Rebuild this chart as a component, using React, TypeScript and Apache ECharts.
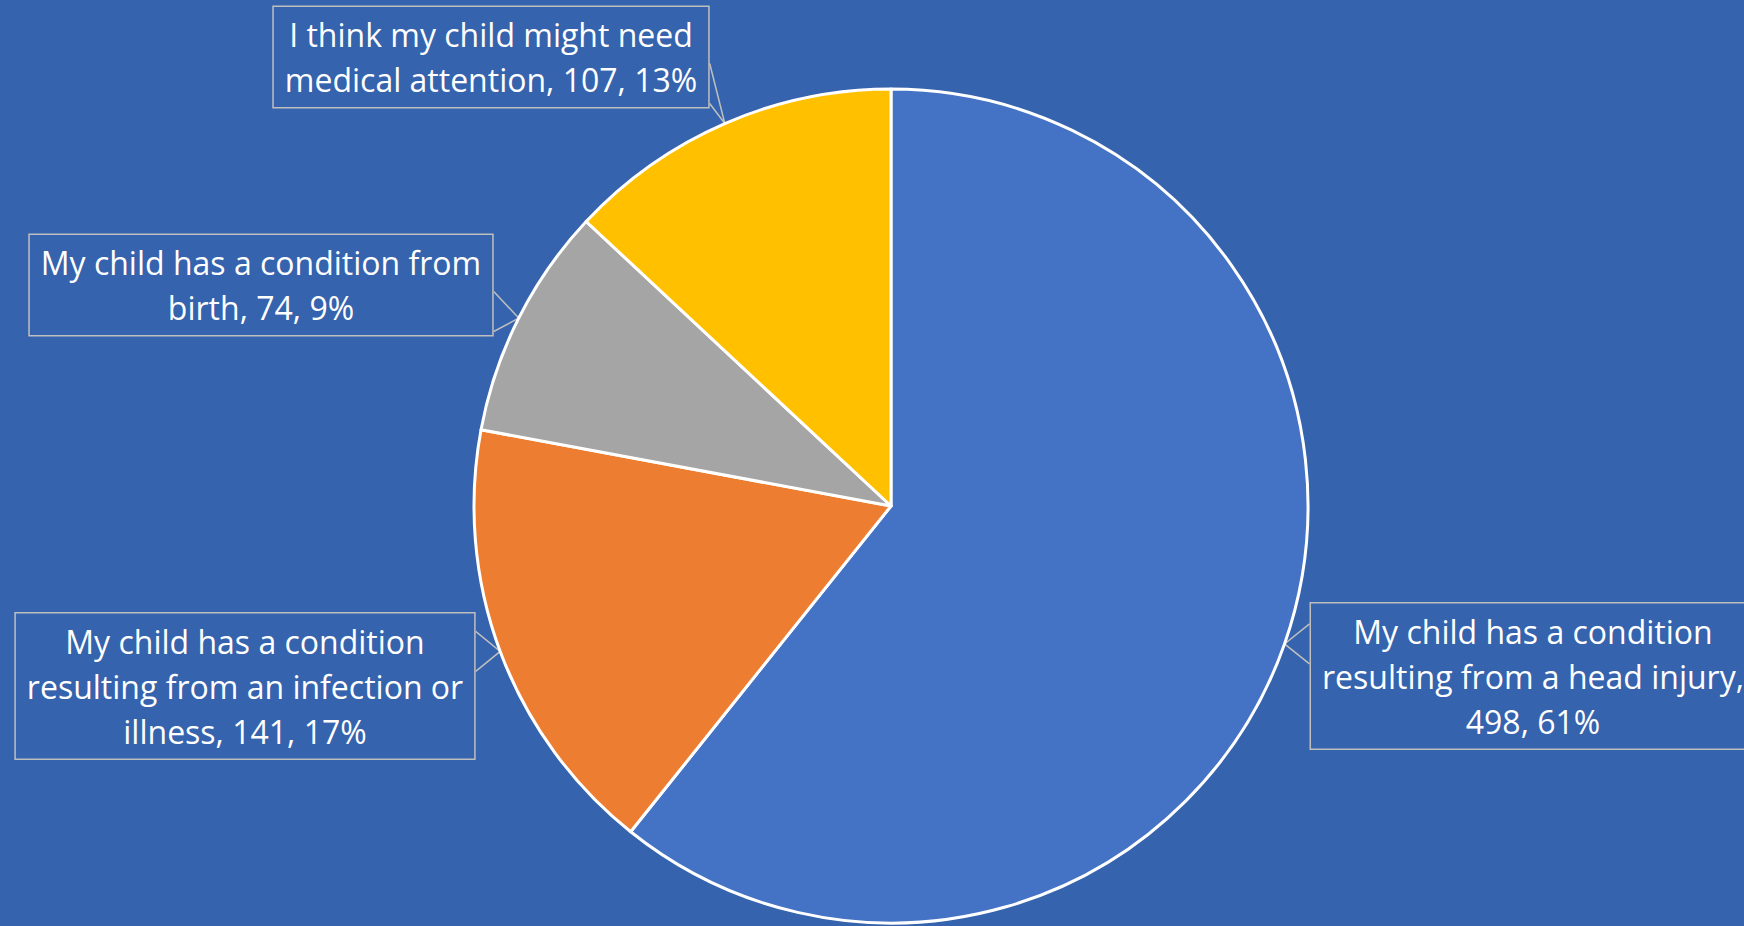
import React, { useEffect, useRef } from "react";
import * as echarts from "echarts";

const categories = [
  "My child has a condition resulting from a head injury",
  "My child has a condition resulting from an infection or illness",
  "My child has a condition from birth",
  "I think my child might need medical attention",
];
const values = [498, 141, 74, 107];
const colors = ["#4472C4", "#ED7D31", "#A5A5A5", "#FFC000"];

// label box centres (layout only)
const labelCentres: [number, number][] = [
  [1533, 676],
  [245, 686],
  [261, 285],
  [491, 57],
];

const BG = "#3563AD";
const MAX_CHARS = 30;

function wrap(text: string, max: number): string {
  const words = text.split(" ");
  const lines: string[] = [];
  let cur = "";
  for (const w of words) {
    const next = cur ? cur + " " + w : w;
    if (next.length > max && cur) {
      lines.push(cur);
      cur = w;
    } else cur = next;
  }
  if (cur) lines.push(cur);
  return lines.join("\n");
}

export default function App() {
  const ref = useRef<HTMLDivElement>(null);
  useEffect(() => {
    document.body.style.margin = "0";
    const chart = echarts.init(ref.current!, undefined, { renderer: "svg" });
    chart.setOption({
      animation: false,
      backgroundColor: BG,
      series: [
        {
          type: "pie",
          center: [891, 506],
          radius: 417,
          startAngle: 90,
          clockwise: true,
          percentPrecision: 0,
          avoidLabelOverlap: false,
          data: categories.map((n, i) => ({
            name: n,
            value: values[i],
            itemStyle: { color: colors[i] },
          })),
          itemStyle: { borderColor: "#FFFFFF", borderWidth: 3 },
          label: {
            show: true,
            position: "outside",
            formatter: (p: any) => wrap(`${p.name}, ${p.value}, ${p.percent}%`, MAX_CHARS),
            color: "#FFFFFF",
            fontFamily: "Open Sans",
            fontSize: 32,
            lineHeight: 45,
            backgroundColor: BG,
            borderColor: "#BFBFBF",
            borderWidth: 1.5,
            padding: [5, 11],
            align: "center",
          },
          labelLine: {
            show: true,
            length: 10,
            length2: 10,
            lineStyle: { color: "#BFBFBF", width: 1.5 },
          },
          labelLayout: (params: any) => {
            const i = params.dataIndex;
            const [cx, cy] = labelCentres[i];
            const w = params.labelRect.width;
            const h = params.labelRect.height;
            const left = cx - w / 2, right = cx + w / 2, top = cy - h / 2, bottom = cy + h / 2;
            const tip = params.labelLinePoints ? params.labelLinePoints[0] : [cx, cy];
            const tx = tip[0], ty = tip[1];
            const ox = tx > right ? tx - right : tx < left ? left - tx : 0;
            const oy = ty > bottom ? ty - bottom : ty < top ? top - ty : 0;
            let pts: number[][];
            if (oy > ox) {
              const ey = ty > bottom ? bottom : top;
              const c = Math.min(Math.max(tx, left + w * 0.25), right - w * 0.3);
              pts = [[c - 54, ey], [tx, ty], [c + 54, ey]];
            } else {
              const ex = tx > right ? right : left;
              const c = Math.min(Math.max(ty, top + 25), bottom - 25);
              pts = [[ex, c - 20], [tx, ty], [ex, c + 20]];
            }
            return {
              x: cx,
              y: cy,
              align: "center",
              verticalAlign: "middle",
              labelLinePoints: pts,
            };
          },
        },
      ],
    });
    return () => chart.dispose();
  }, []);
  return <div ref={ref} style={{ width: 1744, height: 926 }} />;
}
